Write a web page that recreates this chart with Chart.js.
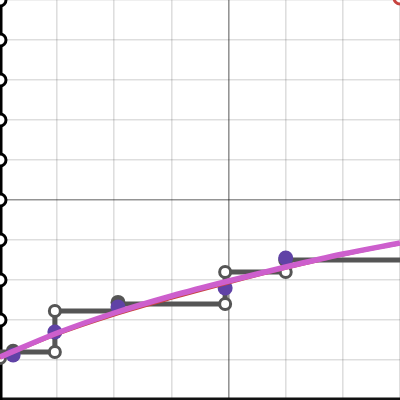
<!DOCTYPE html>
<html>
<head>
<meta charset="utf-8">
<script src="https://cdn.jsdelivr.net/npm/chart.js@4.4.1/dist/chart.umd.min.js"></script>
<style>
  html, body { margin: 0; padding: 0; background: #fff; }
  #wrap { width: 400px; height: 400px; }
</style>
</head>
<body>
<div id="wrap"><canvas id="graphChart"></canvas></div>
<script>
// axis window
var x_min = -4, x_max = 3;
var y_min = -5, y_max = 5;

// step function (gray), in drawing order
var step_x = [-4, -3.04, -3.04, -1.95, -1.95, -0.06, -0.06, 1.0, 1.0, 3];
var step_y = [-3.8, -3.8, -2.775, -2.775, -2.6, -2.6, -1.8, -1.8, -1.5, -1.5];
// open ends of the steps
var open_x = [-4, -3.04, -3.04, -0.06, -0.06, 1.0];
var open_y = [-3.95, -3.8, -2.775, -2.6, -1.8, -1.8];
// closed ends
var closed_x = [-3.77, -1.935, 1.0];
var closed_y = [-3.78, -2.56, -1.5];

// data points (purple)
var pts_x = [-3.77, -3.04, -1.935, -0.06, 1.0];
var pts_y = [-3.875, -3.3, -2.675, -2.2, -1.45];

// fitted curves
var curve_x = [-4, -3, -2, -1, 0, 1, 2, 3];
var pink_y = [-3.925, -3.325, -2.825, -2.4, -2.025, -1.675, -1.35, -1.075];
var red_y = [-3.95, -3.36, -2.875, -2.46, -2.075, -1.71, -1.375, -1.09];

// black markers on the left edge
var edge_y = [-3, -2, -1, 0, 1, 2, 3, 4, 5];

// red marker top right
var red_pt_x = [3.0];
var red_pt_y = [5.05];

function pairs(xs, ys) {
    var out = [];
    var i = 0;
    while (i < xs.length) {
        out.push({"x": xs[i], "y": ys[i]});
        i = i + 1;
    }
    return out;
}

var edge_pts = [];
var k = 0;
while (k < edge_y.length) {
    edge_pts.push({"x": x_min, "y": edge_y[k]});
    k = k + 1;
}

function grid_col(c) {
    if (c.tick && c.tick.value === 0) return 'rgba(0,0,0,0.42)';
    return 'rgba(0,0,0,0.13)';
}

var ctx = document.getElementById("graphChart").getContext('2d');
window.graph_chart = new Chart(ctx, {
    type: 'scatter',
    data: {
        datasets: [
            {   // pink fit
                data: pairs(curve_x, pink_y),
                showLine: true, borderColor: '#cd5fcd', borderWidth: 5.5,
                pointRadius: 0, cubicInterpolationMode: 'monotone', order: 0
            },
            {   // red fit
                data: pairs(curve_x, red_y),
                showLine: true, borderColor: '#c74440', borderWidth: 3,
                pointRadius: 0, cubicInterpolationMode: 'monotone', order: 1
            },
            {   // purple points
                data: pairs(pts_x, pts_y),
                pointRadius: 7.5, pointBackgroundColor: '#6042a6',
                pointBorderWidth: 0, order: 2
            },
            {   // open circles
                data: pairs(open_x, open_y),
                pointRadius: 5.5, pointBackgroundColor: '#fff',
                pointBorderColor: '#555', pointBorderWidth: 3, order: 3
            },
            {   // closed circles
                data: pairs(closed_x, closed_y),
                pointRadius: 7.5, pointBackgroundColor: '#555',
                pointBorderWidth: 0, order: 4
            },
            {   // steps
                data: pairs(step_x, step_y),
                showLine: true, borderColor: '#555', borderWidth: 5,
                pointRadius: 0, tension: 0, order: 5
            },
            {   // red marker
                data: pairs(red_pt_x, red_pt_y),
                pointRadius: 6, pointBackgroundColor: '#fff',
                pointBorderColor: '#c74440', pointBorderWidth: 3, order: 6
            },
            {   // black edge markers
                data: edge_pts,
                pointRadius: 6, pointBackgroundColor: '#fff',
                pointBorderColor: '#000', pointBorderWidth: 3, order: 7
            },
            {   // black left edge
                data: pairs([x_min, x_min], [y_min, y_max]),
                showLine: true, borderColor: '#000', borderWidth: 5,
                pointRadius: 0, order: 8
            },
            {   // black bottom edge
                data: pairs([x_min, x_max], [y_min, y_min]),
                showLine: true, borderColor: '#111', borderWidth: 5,
                pointRadius: 0, order: 9
            }
        ]
    },
    options: {
        animation: false,
        responsive: true,
        maintainAspectRatio: false,
        layout: { padding: 0, autoPadding: false },
        datasets: { scatter: { clip: false } },
        plugins: { legend: { display: false }, tooltip: { enabled: false } },
        scales: {
            x: {
                type: 'linear', min: x_min, max: x_max,
                ticks: { display: false, stepSize: 1 },
                border: { display: false },
                grid: { color: grid_col, lineWidth: 1.6, drawTicks: false }
            },
            y: {
                type: 'linear', min: y_min, max: y_max,
                ticks: { display: false, stepSize: 1 },
                border: { display: false },
                grid: { color: grid_col, lineWidth: 1.6, drawTicks: false }
            }
        }
    }
});
</script>
</body>
</html>
